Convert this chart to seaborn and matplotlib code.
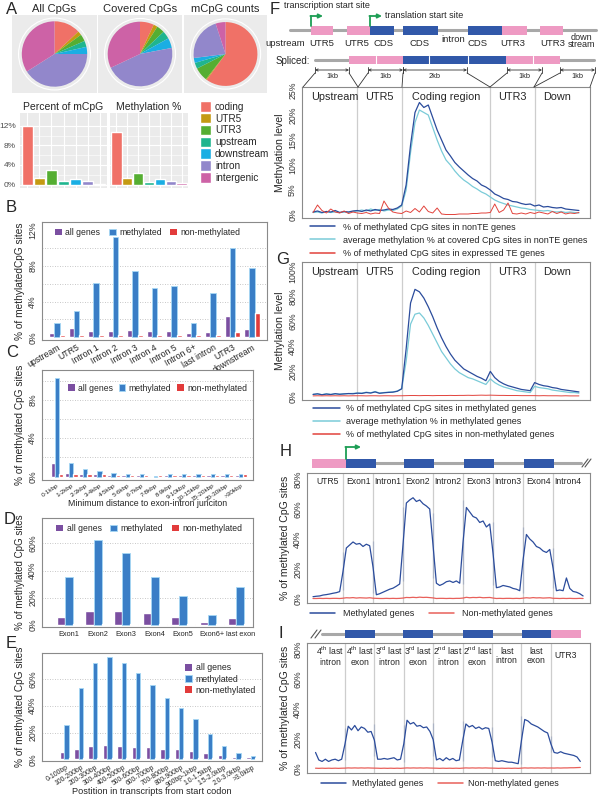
import numpy as np
import pandas as pd
import matplotlib
matplotlib.use('Agg')
import matplotlib.pyplot as plt
import seaborn as sns
from matplotlib.patches import Rectangle, Patch, Circle
from matplotlib.lines import Line2D

#-----------------------------------------------------------------#
# Data

# Panel A: genomic regions
regions = ['coding', 'UTR5', 'UTR3', 'upstream', 'downstream', 'intron', 'intergenic']
region_colors = ['#F07167', '#C49A12', '#55AE32', '#1FB58F', '#1AAEE3', '#9287CB', '#CD62A6']
all_cpg_share = [13, 2, 3.5, 3, 3.5, 41, 34]
covered_cpg_share = [7, 2, 4, 4, 5, 46, 32]
mcpg_count_share = [60, 0.5, 7, 3, 2.5, 22, 5]
pct_of_mcpg = [12.0, 1.3, 3.0, 0.8, 1.1, 0.7, 0.2]
methylation_pct = [10.7, 1.3, 2.4, 0.5, 1.1, 0.8, 0.3]

# Gene groups used in B-E
groups = ['all genes', 'methylated', 'non-methylated']
group_colors = ['#7B4FA1', '#3A7EC6', '#E23B3B']

# Panel B
b_regions = ['upstream', 'UTR5', 'Intron 1', 'Intron 2', 'Intron 3', 'Intron 4',
             'Intron 5', 'Intron 6+', 'last intron', 'UTR3', 'downstream']
b_all = [0.5, 1.0, 0.7, 0.7, 0.8, 0.7, 0.7, 0.5, 0.6, 2.4, 0.9]
b_meth = [1.6, 3.0, 6.1, 11.2, 7.4, 5.5, 5.7, 1.6, 5.0, 10.0, 7.8]
b_non = [0.3, 0.3, 0.3, 0.3, 0.3, 0.3, 0.3, 0.3, 0.3, 0.6, 2.7]

# Panel C
c_dist = ['0-1kbp', '1-2kbp', '2-3kbp', '3-4kbp', '4-5kbp', '5-6kbp', '6-7kbp',
          '7-8kbp', '8-9kbp', '9-10kbp', '10-15kbp', '15-20kbp', '20-30kbp', '>30kbp']
c_all = [1.4, 0.4, 0.3, 0.3, 0.2, 0.2, 0.2, 0.1, 0.2, 0.2, 0.2, 0.2, 0.2, 0.2]
c_meth = [10.3, 1.4, 0.8, 0.6, 0.4, 0.3, 0.25, 0.1, 0.3, 0.25, 0.25, 0.25, 0.25, 0.3]
c_non = [0.3, 0.3, 0.3, 0.3, 0.2, 0.2, 0.2, 0.2, 0.2, 0.2, 0.2, 0.2, 0.2, 0.3]

# Panel D
d_exons = ['Exon1', 'Exon2', 'Exon3', 'Exon4', 'Exon5', 'Exon6+', 'last exon']
d_all = [5.5, 10, 10, 8.5, 6, 2.5, 5]
d_meth = [35.5, 62.5, 53, 35.5, 21, 7, 28]
d_non = [0.8, 0.8, 0.8, 0.8, 0.8, 0.8, 0.8]

# Panel E
e_pos = ['0-100bp', '100-200bp', '200-300bp', '300-400bp', '400-500bp', '500-600bp',
         '600-700bp', '700-800bp', '800-900bp', '900bp-1kbp', '1.0-1.5kbp',
         '1.5-2.0kbp', '2.0-3.0kbp', '>3.0kbp']
e_all = [5.5, 8, 10, 10.5, 10, 9.5, 9, 8, 7.5, 6.5, 5, 3.5, 2, 1.5]
e_meth = [25.5, 53, 72, 76, 72, 64.5, 55.5, 46, 38, 30, 19, 10, 4.5, 2.5]
e_non = [0.8, 0.8, 0.8, 0.8, 0.8, 0.8, 0.8, 0.8, 0.8, 0.8, 0.8, 0.8, 0.8, 0.8]

# Panels F and G: profiles along gene model (kb, step 0.1)
f_sections = ['Upstream', 'UTR5', 'Coding region', 'UTR3', 'Down']
f_meth_nonte = [0.6, 0.8, 0.5, 0.7, 0.6, 0.9, 0.5, 0.7, 0.6, 0.8, 0.9,
                 0.7, 1.0, 0.8, 1.1, 0.9, 1.0, 1.2, 1.1, 1.4, 2.0,
                 6.0, 14.0, 20.5, 22.5, 21.5, 22.0, 19.5, 17.0, 15.0, 13.0,
                 11.8, 10.5, 9.6, 8.8, 8.0, 7.3, 6.8, 6.0, 5.6, 5.0,
                 4.2, 3.8, 3.3, 3.1, 2.7, 2.6, 2.3, 2.1, 2.2, 1.8,
                 2.0, 1.6, 1.7, 1.5, 1.4, 1.5, 1.2, 1.1, 1.0, 0.9]
f_avg_nonte = [0.5, 0.6, 0.4, 0.7, 0.5, 0.6, 0.5, 0.6, 0.5, 0.7, 0.8,
               1.0, 0.8, 1.2, 0.9, 1.1, 0.8, 1.0, 0.9, 1.2, 1.8,
               5.0, 12.5, 18.5, 21.0, 20.5, 20.0, 17.5, 15.0, 12.8, 11.0,
               10.0, 8.8, 7.8, 7.0, 6.4, 5.7, 5.2, 4.6, 4.2, 3.6,
               3.0, 2.6, 2.3, 2.0, 1.8, 1.6, 1.4, 1.3, 1.1, 1.0,
               0.9, 0.8, 0.9, 0.7, 0.6, 0.7, 0.5, 0.6, 0.5, 0.4]
f_meth_te = [0.5, 2.0, 0.9, 0.4, 1.2, 0.6, 0.4, 0.8, 0.3, 0.6, 0.4,
             0.3, 0.5, 0.2, 0.4, 0.3, 2.8, 1.4, 0.6, 0.4, 0.3,
             0.8, 0.5, 1.3, 0.6, 1.8, 0.7, 0.4, 1.4, 0.2, 0.1,
             0.1, 0.1, 0.2, 0.2, 0.2, 0.3, 0.3, 0.4, 0.4, 0.5,
             2.2, 0.5, 1.0, 2.4, 0.3, 0.2, 0.4, 0.2, 0.5, 0.3,
             0.6, 0.4, 0.2, 0.7, 0.3, 0.6, 0.2, 0.4, 0.3, 0.5]

g_meth_genes = [1.5, 2.0, 1.2, 1.8, 1.4, 2.1, 1.6, 1.9, 2.2, 2.0, 2.5,
                2.3, 3.0, 2.6, 3.5, 2.4, 2.8, 3.1, 3.3, 4.0, 6.0,
                38.0, 75.0, 86.0, 84.0, 79.0, 72.0, 64.0, 55.0, 47.0, 40.0,
                34.0, 29.0, 25.5, 22.0, 20.0, 18.0, 16.0, 14.5, 12.5, 20.0,
                15.0, 12.0, 10.0, 8.5, 7.5, 6.5, 5.5, 5.0, 4.5, 11.0,
                9.5, 8.5, 8.0, 7.0, 6.5, 5.5, 5.0, 4.5, 4.0, 3.5]
g_avg_genes = [1.5, 1.8, 1.3, 2.0, 1.5, 1.9, 1.7, 2.0, 2.1, 2.3, 2.6,
               2.5, 3.3, 2.8, 3.8, 2.6, 3.0, 3.3, 3.5, 4.2, 6.0,
               28.0, 58.0, 66.0, 67.0, 63.0, 57.0, 50.0, 43.0, 36.0, 31.0,
               26.0, 22.0, 19.0, 17.0, 15.0, 14.0, 12.5, 11.0, 9.5, 14.0,
               11.0, 9.0, 7.5, 6.5, 5.5, 4.5, 4.0, 3.5, 3.0, 8.0,
               7.0, 6.5, 6.0, 5.0, 4.5, 4.0, 3.5, 3.0, 3.0, 2.5]
g_meth_non = [0.3, 0.4, 0.3, 0.4, 0.3, 0.4, 0.3, 0.4, 0.3, 0.4, 0.4,
              0.4, 0.3, 0.4, 0.4, 0.3, 0.4, 0.4, 0.3, 0.4, 0.4,
              0.5, 0.6, 0.6, 0.5, 0.6, 0.6, 0.5, 0.6, 0.6, 0.6,
              0.7, 0.6, 0.7, 0.7, 0.8, 0.7, 0.8, 0.9, 0.8, 0.9,
              0.8, 0.7, 0.7, 0.6, 0.6, 0.6, 0.5, 0.5, 0.5, 0.5,
              0.4, 0.5, 0.4, 0.4, 0.4, 0.3, 0.4, 0.3, 0.3, 0.3]

# Panel H: 5' end of genes, 10 points per section
h_sections = ['UTR5', 'Exon1', 'Intron1', 'Exon2', 'Intron2', 'Exon3', 'Intron3', 'Exon4', 'Intron4']
h_meth = [1.5, 1.8, 2.0, 2.6, 2.9, 3.3, 3.8, 4.2, 4.9, 5.8,
          31, 34, 36, 38, 36.5, 37, 35, 36.5, 35.5, 38.5,
          4.0, 2.8, 3.5, 4.5, 5.5, 6.5, 7.2, 8.5, 10, 12,
          61, 64, 66, 67.5, 65, 66, 63.5, 62, 60, 57.5,
          14, 10.5, 9, 10, 11.5, 12, 11, 12, 10.5, 10,
          66, 61, 58, 55, 54, 51, 52, 48, 50, 51,
          9.5, 7.5, 8, 9, 8.5, 8, 7, 6.5, 5.5, 4.0,
          48, 43, 40, 38, 35, 34, 32, 31, 33, 34,
          7, 5.5, 6, 5.5, 14, 7, 5, 4.5, 3.5, 2.0]
h_non = [0.3, 0.3, 0.4, 0.3, 0.4, 0.3, 0.4, 0.4, 0.3, 0.4,
         0.6, 0.8, 0.7, 0.9, 0.6, 0.8, 0.7, 0.6, 0.8, 0.7,
         0.3, 0.4, 0.3, 0.3, 0.4, 0.3, 0.4, 0.3, 0.4, 0.4,
         0.8, 1.0, 0.9, 1.1, 0.9, 1.2, 1.0, 1.1, 0.9, 1.0,
         0.4, 0.3, 0.4, 0.4, 0.3, 0.4, 0.3, 0.4, 0.4, 0.3,
         0.9, 1.1, 0.8, 1.0, 0.9, 1.1, 0.8, 0.9, 1.0, 0.8,
         0.4, 0.3, 0.4, 0.3, 0.4, 0.4, 0.3, 0.4, 0.3, 0.4,
         0.7, 0.8, 0.6, 0.9, 0.7, 0.8, 0.6, 0.7, 0.8, 0.6,
         0.3, 0.4, 0.3, 0.4, 0.3, 0.4, 0.3, 0.3, 0.4, 0.3]

# Panel I: 3' end of genes, 10 points per section
i_sections = ['4$^{\\mathrm{th}}$ last\nintron', '4$^{\\mathrm{th}}$ last\nexon',
              '3$^{\\mathrm{rd}}$ last\nintron', '3$^{\\mathrm{rd}}$ last\nexon',
              '2$^{\\mathrm{nd}}$ last\nintron', '2$^{\\mathrm{nd}}$ last\nexon',
              'last\nintron', 'last\nexon', 'UTR3']
i_meth = [11, 6, 5, 6.5, 5, 6, 6.5, 5.5, 6.5, 6,
          27, 28.5, 26, 29, 25.5, 28, 27, 24.5, 25, 30,
          8.5, 6.5, 6.5, 7, 6.5, 7, 7.5, 6, 6.5, 4.5,
          29, 32.5, 30, 31, 28.5, 29, 27.5, 28, 25, 30.5,
          8.5, 6, 7, 5.5, 7.5, 6, 7, 5.5, 6, 5,
          32, 30, 28, 29, 27, 28, 26.5, 27.5, 27, 28,
          8, 5.5, 5, 5.5, 5, 4.5, 4.5, 4, 3.5, 3,
          35, 33, 32, 30, 29, 28, 26.5, 25, 24, 22,
          11.5, 11, 10.5, 11.5, 10.5, 10, 9.5, 9, 8, 5]
i_non = [0.5, 0.4, 0.5, 0.4, 0.5, 0.4, 0.5, 0.4, 0.5, 0.5,
         0.6, 0.7, 0.6, 0.7, 0.6, 0.7, 0.6, 0.7, 0.6, 0.7,
         0.4, 0.5, 0.4, 0.5, 0.4, 0.5, 0.4, 0.5, 0.4, 0.5,
         0.6, 0.7, 0.6, 0.7, 0.6, 0.7, 0.6, 0.7, 0.6, 0.7,
         0.4, 0.5, 0.4, 0.5, 0.4, 0.5, 0.4, 0.5, 0.4, 0.5,
         0.6, 0.7, 0.6, 0.7, 0.6, 0.7, 0.6, 0.7, 0.6, 0.7,
         0.4, 0.5, 0.4, 0.5, 0.4, 0.5, 0.4, 0.5, 0.4, 0.5,
         0.6, 0.7, 0.6, 0.7, 0.6, 0.7, 0.6, 0.7, 0.6, 0.7,
         0.6, 0.6, 0.7, 0.6, 0.7, 0.7, 0.8, 0.8, 0.9, 1.0]

#-----------------------------------------------------------------#
# Style

sns.set_style('white')
plt.rcParams['font.family'] = ['Liberation Sans', 'DejaVu Sans']
plt.rcParams['mathtext.fontset'] = 'custom'
plt.rcParams['mathtext.rm'] = 'Liberation Sans'
plt.rcParams['mathtext.it'] = 'Liberation Sans:italic'

W, H = 599, 800
fig = plt.figure(figsize=(W / 100, H / 100), dpi=100)


def add_ax(x0, y0, x1, y1, **kw):
    # axes placed by pixel box of the reference picture
    return fig.add_axes([x0 / W, 1 - y1 / H, (x1 - x0) / W, (y1 - y0) / H], **kw)


def letter(x, y, s):
    fig.text(x / W, 1 - y / H, s, fontsize=12, ha='left', va='center')


#-----------------------------------------------------------------#
# Panel A: pies and small bar charts (ggplot look)

def pie_panel(ax, shares, title):
    ax.pie(shares, colors=region_colors, startangle=90, counterclock=False,
           wedgeprops=dict(linewidth=0))
    ax.set_frame_on(True)
    ax.set_facecolor('#EBEBEB')
    for s in ax.spines.values():
        s.set_visible(False)
    ax.add_patch(Circle((0, 0), 1.1, fill=False, ec='white', lw=0.8))
    ax.set_xlim(-1.3, 1.3)
    ax.set_ylim(-1.25, 1.25)
    ax.set_aspect('equal', adjustable='datalim')
    ax.set_xticks([])
    ax.set_yticks([])
    ax.set_title(title, fontsize=8, pad=2)


pie_panel(add_ax(12, 15, 97, 93), all_cpg_share, 'All CpGs')
pie_panel(add_ax(98, 15, 182, 93), covered_cpg_share, 'Covered CpGs')
pie_panel(add_ax(184, 15, 267, 93), mcpg_count_share, 'mCpG counts')


def region_bars(ax, vals, title, show_y):
    ax.set_facecolor('#EBEBEB')
    sns.barplot(x=regions, y=vals, hue=regions, palette=region_colors, legend=False,
                width=0.95, saturation=1, ax=ax, zorder=3)
    ax.set_ylim(-0.7, 14.6)
    ax.set_xlim(-0.6, 6.6)
    ax.set_yticks([0, 4, 8, 12])
    ax.set_yticks([2, 6, 10], minor=True)
    ax.set_yticklabels(['0%', '4%', '8%', '12%'] if show_y else [])
    ax.grid(True, which='major', color='white', lw=0.8)
    ax.grid(True, which='minor', axis='y', color='white', lw=0.4)
    ax.set_xticklabels([])
    ax.tick_params(axis='both', which='major', length=2, color='#555555',
                   labelsize=6, labelcolor='#4D4D4D', pad=1)
    ax.tick_params(which='minor', length=0)
    for s in ax.spines.values():
        s.set_visible(False)
    ax.set_title(title, fontsize=7.5, pad=2)
    ax.set_xlabel('')
    ax.set_ylabel('')


region_bars(add_ax(20, 113, 107, 188), pct_of_mcpg, 'Percent of mCpG', True)
region_bars(add_ax(110, 113, 188, 188), methylation_pct, 'Methylation %', False)

fig.legend(handles=[Patch(facecolor=c) for c in region_colors], labels=regions,
           loc='upper left', bbox_to_anchor=(200 / W, 1 - 101 / H), frameon=False,
           fontsize=7.2, handlelength=1.1, handleheight=1.25, labelspacing=0.12,
           handletextpad=0.4, borderpad=0, borderaxespad=0)

#-----------------------------------------------------------------#
# Panels B-E: grouped bar charts (R base look)

def grouped_bars(ax, cats, series, width):
    df = pd.DataFrame({'category': cats * 3,
                       'group': np.repeat(groups, len(cats)),
                       'value': series[0] + series[1] + series[2]})
    sns.barplot(data=df, x='category', y='value', hue='group', hue_order=groups,
                palette=group_colors, width=width, saturation=1, errorbar=None,
                ax=ax, legend=False, zorder=2)
    for bar in ax.containers[1]:
        bar.set_edgecolor('#A6D8F4')
        bar.set_linewidth(0.6)
    for s in ax.spines.values():
        s.set_color('#8A8A8A')
        s.set_linewidth(0.8)
    ax.set_xlabel('')


def percent_y(ax, ylim, ticks, grid, label, fs=7.3):
    ax.set_ylim(*ylim)
    ax.set_yticks(ticks)
    ax.set_yticklabels([f'{t}%' for t in ticks], rotation=90, va='center')
    for g in grid:
        ax.axhline(g, color='#B5B5B5', lw=0.6, ls=(0, (1, 2)), zorder=0)
    ax.tick_params(axis='y', length=2.5, labelsize=6.3, pad=1, color='#666666',
                   labelcolor='#333333')
    ax.set_ylabel(label, fontsize=fs, labelpad=2)


def group_legend(ax, **kw):
    handles = [Patch(facecolor=c, edgecolor=e, lw=0.6)
               for c, e in zip(group_colors, ['none', '#A6D8F4', 'none'])]
    ax.legend(handles, groups, frameon=False, handlelength=0.8, handleheight=0.8,
              handletextpad=0.4, borderaxespad=0.3, **kw)


# B
ax_b = add_ax(42, 222, 267, 340)
grouped_bars(ax_b, b_regions, [b_all, b_meth, b_non], 0.8)
ax_b.set_xlim(-0.77, 10.77)
percent_y(ax_b, (-0.3, 12.9), [0, 4, 8, 12], [2, 4, 6, 8, 10],
          '% of methylatedCpG sites')
ax_b.set_xticks(range(len(b_regions)))
ax_b.set_xticklabels(b_regions, rotation=30, ha='right', rotation_mode='anchor', fontsize=6.3)
ax_b.tick_params(axis='x', length=0, pad=2)
group_legend(ax_b, loc='upper left', ncol=3, fontsize=6.2, columnspacing=1.0,
             bbox_to_anchor=(0.03, 1.0))

# C
ax_c = add_ax(42, 370, 253, 480)
grouped_bars(ax_c, c_dist, [c_all, c_meth, c_non], 0.9)
ax_c.set_xlim(-1.06, 13.85)
percent_y(ax_c, (-0.35, 11.1), [0, 4, 8], [2, 4, 6, 8, 10],
          '% of methylated CpG sites')
ax_c.set_xticks(range(len(c_dist)))
ax_c.set_xticklabels(c_dist, rotation=35, ha='right', rotation_mode='anchor', fontsize=4.6)
ax_c.tick_params(axis='x', length=0, pad=2)
ax_c.set_xlabel('Minimum distance to exon-intron junciton', fontsize=6.3)
ax_c.xaxis.set_label_coords(0.5, -0.17)
group_legend(ax_c, loc='upper right', ncol=3, fontsize=6.2, columnspacing=0.6,
             bbox_to_anchor=(1.0, 0.93))

# D
ax_d = add_ax(42, 518, 253, 627)
grouped_bars(ax_d, d_exons, [d_all, d_meth, d_non], 0.85)
ax_d.set_xlim(-0.95, 6.45)
percent_y(ax_d, (-1.5, 78.7), [0, 20, 40, 60], [20, 40, 60],
          '% of methylated CpG sites', fs=7.0)
ax_d.set_xticks(range(len(d_exons)))
ax_d.set_xticklabels(d_exons, fontsize=5.3)
ax_d.tick_params(axis='x', length=0, pad=3)
group_legend(ax_d, loc='upper left', ncol=3, fontsize=6.2, columnspacing=1.0,
             bbox_to_anchor=(0.04, 1.0))

# E
ax_e = add_ax(42, 653, 262, 761)
grouped_bars(ax_e, e_pos, [e_all, e_meth, e_non], 0.92)
ax_e.set_xlim(-1.7, 13.63)
percent_y(ax_e, (-1.2, 79.3), [0, 20, 40, 60], [20, 40, 60],
          '% of methylated CpG sites')
ax_e.set_xticks(range(len(e_pos)))
ax_e.set_xticklabels(e_pos, rotation=32, ha='right', rotation_mode='anchor', fontsize=4.9)
ax_e.tick_params(axis='x', length=0, pad=2)
ax_e.set_xlabel('Postition in transcripts from start codon', fontsize=6.6)
ax_e.xaxis.set_label_coords(0.5, -0.245)
group_legend(ax_e, loc='upper right', ncol=1, fontsize=6.3, labelspacing=0.25,
             bbox_to_anchor=(1.0, 0.96))

#-----------------------------------------------------------------#
# Panels F-I: methylation profiles

def profile_frame(ax, xlim, ylim, ticks, label, bounds, fs=7.6):
    ax.set_xlim(*xlim)
    ax.set_ylim(*ylim)
    for b in bounds:
        ax.axvline(b, color='#CDCDCD', lw=0.9, zorder=0)
    ax.set_yticks(ticks)
    ax.set_yticklabels([f'{t}%' for t in ticks], rotation=90, va='center')
    ax.tick_params(axis='y', length=2.5, labelsize=6.3, pad=1, color='#666666',
                   labelcolor='#333333')
    for s in ax.spines.values():
        s.set_color('#8A8A8A')
        s.set_linewidth(0.8)
    ax.set_xlabel('')
    ax.set_ylabel(label, fontsize=fs, labelpad=2)


def line_legend(ax, colors, labels, **kw):
    handles = [Line2D([], [], color=c, lw=1.1) for c in colors]
    ax.legend(handles, labels, frameon=False, borderpad=0, borderaxespad=0,
              fontsize=6.5, **kw)


x_kb = np.round(np.arange(len(f_meth_nonte)) * 0.1, 1)
dark_blue, cyan, red_line = '#2B4C9C', '#7ACBD8', '#E2433C'

# F
ax_f = add_ax(302, 87, 590, 218)
sns.lineplot(x=x_kb, y=f_avg_nonte, color=cyan, lw=0.9, ax=ax_f)
sns.lineplot(x=x_kb, y=f_meth_nonte, color=dark_blue, lw=0.9, ax=ax_f)
sns.lineplot(x=x_kb, y=f_meth_te, color=red_line, lw=0.7, ax=ax_f)
profile_frame(ax_f, (-0.25, 6.25), (-0.6, 25.6), [0, 5, 10, 15, 20, 25],
              'Methylation level', [1, 2, 4, 5])
ax_f.set_xticks(range(7))
ax_f.set_xticklabels([])
ax_f.tick_params(axis='x', length=3, color='#666666')
for xc, lab in zip([0.5, 1.5, 3.0, 4.5, 5.5], f_sections):
    ax_f.text(xc, 0.92, lab, transform=ax_f.get_xaxis_transform(),
              ha='center', va='center', fontsize=7.8)
line_legend(ax_f, [dark_blue, cyan, red_line],
            ['% of methylated CpG sites in nonTE genes',
             'average methylation % at covered CpG sites in nonTE genes',
             '% of methylated CpG sites in expressed TE genes'],
            loc='upper left', bbox_to_anchor=(0.028, -0.035), handlelength=2.8,
            handletextpad=0.9, labelspacing=0.45)

# G
ax_g = add_ax(302, 262, 590, 400)
sns.lineplot(x=x_kb, y=g_avg_genes, color=cyan, lw=0.9, ax=ax_g)
sns.lineplot(x=x_kb, y=g_meth_genes, color=dark_blue, lw=0.9, ax=ax_g)
sns.lineplot(x=x_kb, y=g_meth_non, color=red_line, lw=0.7, ax=ax_g)
profile_frame(ax_g, (-0.25, 6.25), (-3, 108), [0, 20, 40, 60, 80, 100],
              'Methylation level', [1, 2, 4, 5])
ax_g.set_xticks(range(7))
ax_g.set_xticklabels([])
ax_g.tick_params(axis='x', length=3, color='#666666')
for xc, lab in zip([0.5, 1.5, 3.0, 4.5, 5.5], f_sections):
    ax_g.text(xc, 0.93, lab, transform=ax_g.get_xaxis_transform(),
              ha='center', va='center', fontsize=7.8)
line_legend(ax_g, [dark_blue, cyan, red_line],
            ['% of methylated CpG sites in methylated genes',
             'average methylation % in methylated genes',
             '% of methylated CpG sites in non-methylated genes'],
            loc='upper left', bbox_to_anchor=(0.038, -0.03), handlelength=3.0,
            handletextpad=0.7, labelspacing=0.45)

# H and I share the section layout
x_sec = np.concatenate([k + np.linspace(0, 1, 10) for k in range(9)])

ax_h = add_ax(307, 473, 590, 603)
sns.lineplot(x=x_sec, y=h_non, color='#E8605A', lw=0.9, ax=ax_h, sort=False)
sns.lineplot(x=x_sec, y=h_meth, color=dark_blue, lw=0.9, ax=ax_h, sort=False)
profile_frame(ax_h, (-0.2, 9.23), (-2.7, 84), [0, 20, 40, 60, 80],
              '% of methylated CpG sites', range(1, 9))
ax_h.set_xticks([])
for k, lab in enumerate(h_sections):
    ax_h.text(k + 0.5, 0.935, lab, transform=ax_h.get_xaxis_transform(),
              ha='center', va='center', fontsize=6.2)
line_legend(ax_h, [dark_blue, '#E8605A'], ['Methylated genes', 'Non-methylated genes'],
            loc='upper left', bbox_to_anchor=(0.01, -0.05), ncol=2, handlelength=2.8,
            handletextpad=0.9, columnspacing=1.6)

ax_i = add_ax(307, 643, 590, 773)
sns.lineplot(x=x_sec, y=i_non, color='#E8605A', lw=0.9, ax=ax_i, sort=False)
sns.lineplot(x=x_sec, y=i_meth, color=dark_blue, lw=0.9, ax=ax_i, sort=False)
profile_frame(ax_i, (-0.29, 9.33), (-2.7, 84), [0, 20, 40, 60, 80],
              '% of methylated CpG sites', range(1, 9))
ax_i.set_xticks([])
for k, lab in enumerate(i_sections):
    ax_i.text(k + 0.5, 0.9, lab, transform=ax_i.get_xaxis_transform(),
              ha='center', va='center', fontsize=6.2, linespacing=1.1)
line_legend(ax_i, [dark_blue, '#E8605A'], ['Methylated genes', 'Non-methylated genes'],
            loc='upper left', bbox_to_anchor=(0.05, -0.05), ncol=2, handlelength=2.8,
            handletextpad=0.6, columnspacing=1.6)

#-----------------------------------------------------------------#
# Gene model diagrams drawn on a pixel overlay

ov = fig.add_axes([0, 0, 1, 1], zorder=10)
ov.set_xlim(0, W)
ov.set_ylim(H, 0)
ov.axis('off')
ov.patch.set_alpha(0)

pink, blue, grey, green = '#EE9AC3', '#3158A9', '#A8A8A8', '#1E9E55'


def box(x0, x1, y0, y1, c):
    ov.add_patch(Rectangle((x0, y0), x1 - x0, y1 - y0, facecolor=c, edgecolor='none', zorder=3))


def tss_arrow(x, y0, y1, x1):
    ov.plot([x, x], [y0, y1], color=green, lw=1.3, zorder=4)
    ov.annotate('', xy=(x1, y1), xytext=(x - 0.6, y1),
                arrowprops=dict(arrowstyle='-|>', color=green, lw=1.3,
                                mutation_scale=6, shrinkA=0, shrinkB=0), zorder=4)


# F gene model
ov.plot([290, 596], [30, 30], color=grey, lw=2.2, zorder=2)
for x0, x1, c in [(311, 333, pink), (347, 370, pink), (370, 394, blue), (403, 438, blue),
                  (468, 502, blue), (502, 527, pink), (540, 563, pink)]:
    box(x0, x1, 26, 35, c)
tss_arrow(311, 26, 16, 323)
tss_arrow(370, 26, 16, 382)
ov.text(284, 6, 'transcription start site', fontsize=6.5, va='center')
ov.text(385, 16, 'translation start site', fontsize=6.5, va='center')
for xc, lab in [(285, 'upstream'), (322, 'UTR5'), (357, 'UTR5'), (384, 'CDS'),
                (420, 'CDS'), (478, 'CDS'), (513, 'UTR3'), (553, 'UTR3')]:
    ov.text(xc, 43, lab, fontsize=6.8, ha='center', va='center')
ov.text(453, 39, 'intron', fontsize=6.8, ha='center', va='center')
ov.text(581, 41, 'down\nstream', fontsize=6.5, ha='center', va='center', linespacing=0.8)

# spliced model
ov.text(276, 61, 'Spliced:', fontsize=7, va='center')
ov.plot([315, 594], [60, 60], color=grey, lw=2.2, zorder=2)
box(349, 403, 56, 64, pink)
box(403, 506, 56, 64, blue)
box(506, 560, 56, 64, pink)
for xs in [376, 429, 468, 533]:
    ov.plot([xs, xs], [56, 64], color='white', lw=0.8, zorder=4)

# scale brackets and links to the profile sections
for x0, x1, lab in [(315, 349, '1kb'), (368, 403, '1kb'), (403, 467, '2kb'),
                    (507, 542, '1kb'), (560, 595, '1kb')]:
    ov.annotate('', xy=(x1, 70), xytext=(x0, 70),
                arrowprops=dict(arrowstyle='<->', color='#333333', lw=0.6,
                                mutation_scale=4, shrinkA=0, shrinkB=0))
    ov.plot([x0, x0], [67, 73], color='#333333', lw=0.6)
    ov.plot([x1, x1], [67, 73], color='#333333', lw=0.6)
    ov.text((x0 + x1) / 2, 76, lab, fontsize=5.3, ha='center', va='center')
for xa, xb in [(315, 303), (349, 358), (368, 358), (403, 402), (467, 490),
               (507, 490), (542, 534), (560, 534), (595, 590)]:
    ov.plot([xa, xb], [73, 87], color='#333333', lw=0.6)

# H gene model
ov.plot([346, 581], [463, 463], color=grey, lw=2.2, zorder=2)
box(312, 346, 459, 468, pink)
for x0 in [346, 404, 464, 524]:
    box(x0, x0 + 30, 459, 468, blue)
ov.plot([582, 588], [467, 459], color='#555555', lw=0.8)
ov.plot([585, 591], [467, 459], color='#555555', lw=0.8)
tss_arrow(346, 459, 447, 361)

# I gene model
ov.plot([322, 551], [634, 634], color=grey, lw=2.2, zorder=2)
for x0 in [345, 403, 463, 522]:
    box(x0, x0 + 29.5, 630, 638, blue)
box(551, 581, 630, 638, pink)
ov.plot([311, 317], [638, 630], color='#555555', lw=0.8)
ov.plot([315, 321], [638, 630], color='#555555', lw=0.8)

# panel letters
letter(6, 10, 'A')
letter(6, 208, 'B')
letter(6, 353, 'C')
letter(4, 520, 'D')
letter(6, 643, 'E')
letter(270, 10, 'F')
letter(276, 260, 'G')
letter(280, 452, 'H')
letter(279, 634, 'I')

plt.savefig('out.png', dpi=100)
plt.close()
